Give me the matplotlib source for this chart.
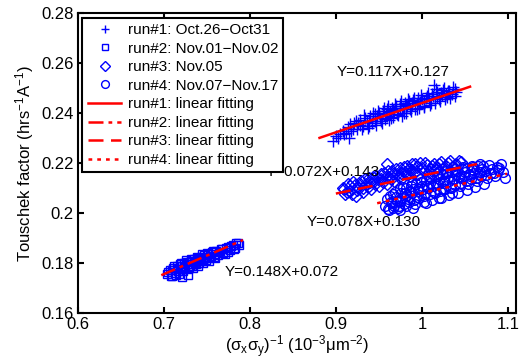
import matplotlib
matplotlib.use('Agg')
import matplotlib.pyplot as plt

plt.rcParams['font.family'] = ['Liberation Sans', 'DejaVu Sans']
plt.rcParams['mathtext.fontset'] = 'custom'
plt.rcParams['mathtext.rm'] = 'Liberation Sans'
plt.rcParams['mathtext.it'] = 'Liberation Sans'
plt.rcParams['mathtext.bf'] = 'Liberation Sans:bold'

# run#1: Oct.26-Oct31
x1 = [0.897, 0.902, 0.905, 0.910, 0.914, 0.918, 0.921, 0.925, 0.928, 0.931,
      0.934, 0.937, 0.940, 0.942, 0.945, 0.947, 0.950, 0.952, 0.955, 0.957,
      0.960, 0.962, 0.965, 0.967, 0.970, 0.972, 0.975, 0.977, 0.980, 0.982,
      0.985, 0.987, 0.990, 0.992, 0.995, 0.997, 1.000, 1.003, 1.006, 1.009,
      1.012, 1.015, 1.018, 1.021, 1.024, 1.027, 1.030, 1.033, 1.036, 1.039,
      0.948, 0.958, 0.968, 0.978, 0.988, 0.998, 1.008, 1.018, 1.028, 0.938,
      0.928, 0.963, 0.983, 1.003, 1.023, 1.014, 0.915,
      0.900, 0.908, 0.912, 0.916, 0.920, 0.923, 0.926, 0.930, 0.933, 0.936,
      0.939, 0.943, 0.946, 0.949, 0.951, 0.954, 0.956, 0.959, 0.961, 0.964,
      0.966, 0.969, 0.971, 0.974, 0.976, 0.979, 0.981, 0.984, 0.986, 0.989,
      0.991, 0.994, 0.996, 0.999, 1.002, 1.005, 1.007, 1.011, 1.013, 1.016,
      1.020, 1.022, 1.026, 1.029, 1.032, 1.035, 1.038, 1.040]
y1 = [0.2290, 0.2302, 0.2315, 0.2318, 0.2345, 0.2327, 0.2362, 0.2338, 0.2371, 0.2349,
      0.2380, 0.2342, 0.2389, 0.2361, 0.2395, 0.2352, 0.2401, 0.2368, 0.2410, 0.2376,
      0.2415, 0.2371, 0.2420, 0.2385, 0.2428, 0.2392, 0.2436, 0.2389, 0.2440, 0.2402,
      0.2447, 0.2408, 0.2451, 0.2415, 0.2460, 0.2420, 0.2458, 0.2425, 0.2470, 0.2433,
      0.2478, 0.2441, 0.2486, 0.2447, 0.2492, 0.2455, 0.2489, 0.2462, 0.2505, 0.2470,
      0.2388, 0.2398, 0.2410, 0.2420, 0.2433, 0.2443, 0.2455, 0.2466, 0.2478, 0.2370,
      0.2352, 0.2405, 0.2428, 0.2450, 0.2474, 0.2512, 0.2300,
      0.2310, 0.2330, 0.2322, 0.2355, 0.2335, 0.2370, 0.2360, 0.2335, 0.2392, 0.2365,
      0.2350, 0.2402, 0.2368, 0.2410, 0.2380, 0.2362, 0.2420, 0.2388, 0.2430, 0.2380,
      0.2412, 0.2438, 0.2395, 0.2420, 0.2448, 0.2400, 0.2432, 0.2455, 0.2415, 0.2440,
      0.2462, 0.2418, 0.2450, 0.2472, 0.2430, 0.2460, 0.2482, 0.2440, 0.2468, 0.2495,
      0.2455, 0.2480, 0.2500, 0.2465, 0.2490, 0.2475, 0.2498, 0.2485]

# run#2: Nov.01-Nov.02
x2 = [0.704, 0.707, 0.709, 0.711, 0.713, 0.715, 0.717, 0.719, 0.721, 0.723,
      0.725, 0.727, 0.729, 0.731, 0.733, 0.735, 0.737, 0.739, 0.741, 0.743,
      0.745, 0.747, 0.749, 0.751, 0.753, 0.756, 0.758, 0.761, 0.763, 0.766,
      0.769, 0.772, 0.775, 0.778, 0.781, 0.784, 0.787, 0.720, 0.730, 0.740,
      0.750, 0.760, 0.735, 0.745, 0.721, 0.728,
      0.705, 0.708, 0.710, 0.712, 0.714, 0.716, 0.718, 0.720, 0.722, 0.724,
      0.726, 0.728, 0.730, 0.732, 0.734, 0.736, 0.738, 0.740, 0.742, 0.744,
      0.746, 0.748, 0.750, 0.752, 0.755, 0.757, 0.760, 0.764, 0.768, 0.771,
      0.774, 0.777, 0.780, 0.783, 0.786]
y2 = [0.1758, 0.1772, 0.1750, 0.1781, 0.1760, 0.1790, 0.1768, 0.1795, 0.1775, 0.1800,
      0.1779, 0.1806, 0.1784, 0.1810, 0.1790, 0.1815, 0.1797, 0.1821, 0.1801, 0.1826,
      0.1808, 0.1832, 0.1812, 0.1838, 0.1820, 0.1845, 0.1826, 0.1850, 0.1832, 0.1855,
      0.1840, 0.1862, 0.1846, 0.1868, 0.1858, 0.1880, 0.1873, 0.1787, 0.1798, 0.1812,
      0.1825, 0.1838, 0.1805, 0.1818, 0.1745, 0.1752,
      0.1765, 0.1748, 0.1772, 0.1790, 0.1752, 0.1778, 0.1758, 0.1800, 0.1768, 0.1790,
      0.1812, 0.1775, 0.1788, 0.1818, 0.1780, 0.1800, 0.1826, 0.1790, 0.1812, 0.1835,
      0.1800, 0.1822, 0.1842, 0.1808, 0.1830, 0.1850, 0.1822, 0.1845, 0.1858, 0.1838,
      0.1865, 0.1852, 0.1872, 0.1862, 0.1882]

# run#3: Nov.05
x3 = [0.908, 0.911, 0.914, 0.917, 0.920, 0.923, 0.926, 0.929, 0.932, 0.935,
      0.938, 0.941, 0.944, 0.947, 0.950, 0.953, 0.956, 0.959, 0.962, 0.965,
      0.968, 0.971, 0.974, 0.977, 0.980, 0.983, 0.986, 0.989, 0.992, 0.996,
      1.000, 1.004, 1.008, 1.012, 1.016, 1.020, 1.025, 1.030, 1.035, 1.040,
      1.045, 0.960,
      0.910, 0.913, 0.916, 0.919, 0.922, 0.925, 0.928, 0.931, 0.934, 0.937,
      0.940, 0.943, 0.946, 0.949, 0.952, 0.955, 0.958, 0.961, 0.964, 0.967,
      0.970, 0.973, 0.976, 0.979, 0.982, 0.985, 0.988, 0.991, 0.994, 0.998,
      1.002, 1.006, 1.010, 1.014, 1.018, 1.022, 1.028, 1.033, 1.038, 1.043]
y3 = [0.2100, 0.2078, 0.2115, 0.2090, 0.2125, 0.2070, 0.2105, 0.2130, 0.2085, 0.2118,
      0.2140, 0.2095, 0.2128, 0.2150, 0.2110, 0.2138, 0.2160, 0.2118, 0.2145, 0.2170,
      0.2130, 0.2155, 0.2180, 0.2140, 0.2165, 0.2190, 0.2150, 0.2172, 0.2198, 0.2158,
      0.2180, 0.2200, 0.2165, 0.2188, 0.2172, 0.2195, 0.2180, 0.2200, 0.2185, 0.2195,
      0.2205, 0.2195,
      0.2095, 0.2085, 0.2108, 0.2078, 0.2112, 0.2092, 0.2118, 0.2100, 0.2135, 0.2105,
      0.2125, 0.2145, 0.2118, 0.2135, 0.2155, 0.2125, 0.2145, 0.2168, 0.2135, 0.2155,
      0.2178, 0.2145, 0.2162, 0.2185, 0.2155, 0.2175, 0.2195, 0.2162, 0.2185, 0.2200,
      0.2170, 0.2192, 0.2178, 0.2198, 0.2182, 0.2205, 0.2190, 0.2208, 0.2192, 0.2210]

# run#4: Nov.07-Nov.17
x4 = [0.957, 0.959, 0.961, 0.963, 0.965, 0.967, 0.969, 0.971, 0.973, 0.975,
      0.977, 0.979, 0.981, 0.983, 0.985, 0.987, 0.989, 0.991, 0.993, 0.995,
      0.997, 0.999, 1.001, 1.003, 1.005, 1.007, 1.009, 1.011, 1.013, 1.015,
      1.017, 1.019, 1.021, 1.023, 1.025, 1.027, 1.029, 1.031, 1.033, 1.035,
      1.037, 1.039, 1.041, 1.043, 1.045, 1.047, 1.049, 1.051, 1.053, 1.055,
      1.057, 1.059, 1.061, 1.063, 1.065, 1.067, 1.069, 1.071, 1.073, 1.075,
      1.078, 1.081, 1.084, 1.087, 1.090, 1.094, 1.097,
      0.970, 0.980, 0.990, 1.000, 1.010, 1.020, 1.030, 1.040, 1.050, 1.060,
      1.070, 0.975, 0.990, 1.005, 1.020, 1.035,
      0.962, 0.964, 0.966, 0.968, 0.972, 0.974, 0.976, 0.978, 0.982, 0.984,
      0.986, 0.988, 0.992, 0.994, 0.996, 0.998, 1.002, 1.004, 1.006, 1.008,
      1.012, 1.014, 1.016, 1.018, 1.022, 1.024, 1.026, 1.028, 1.032, 1.034,
      1.036, 1.038, 1.042, 1.044, 1.046, 1.048, 1.052, 1.054, 1.056, 1.058,
      1.062, 1.064, 1.066, 1.068, 1.072, 1.076, 1.080, 1.085, 1.088, 1.092]
y4 = [0.2030, 0.2055, 0.2015, 0.2070, 0.2040, 0.2022, 0.2085, 0.2050, 0.2030, 0.2095,
      0.2060, 0.2038, 0.2100, 0.2072, 0.2045, 0.2110, 0.2080, 0.2052, 0.2118, 0.2088,
      0.2060, 0.2125, 0.2095, 0.2068, 0.2132, 0.2102, 0.2075, 0.2140, 0.2108, 0.2082,
      0.2148, 0.2115, 0.2090, 0.2155, 0.2122, 0.2098, 0.2160, 0.2130, 0.2105, 0.2165,
      0.2138, 0.2112, 0.2170, 0.2145, 0.2120, 0.2178, 0.2150, 0.2128, 0.2182, 0.2158,
      0.2135, 0.2185, 0.2160, 0.2140, 0.2190, 0.2165, 0.2148, 0.2188, 0.2170, 0.2152,
      0.2192, 0.2175, 0.2160, 0.2185, 0.2180, 0.2165, 0.2140,
      0.2065, 0.2080, 0.2095, 0.2110, 0.2120, 0.2135, 0.2145, 0.2155, 0.2165, 0.2172,
      0.2178, 0.2012, 0.2022, 0.2040, 0.2060, 0.2080,
      0.2012, 0.2044, 0.2075, 0.2028, 0.2020, 0.2050, 0.2082, 0.2105, 0.2030, 0.2058,
      0.2090, 0.2120, 0.2036, 0.2066, 0.2098, 0.2135, 0.2045, 0.2075, 0.2108, 0.2150,
      0.2052, 0.2085, 0.2118, 0.2160, 0.2062, 0.2095, 0.2128, 0.2170, 0.2072, 0.2100,
      0.2135, 0.2178, 0.2082, 0.2110, 0.2142, 0.2185, 0.2092, 0.2118, 0.2150, 0.2190,
      0.2105, 0.2128, 0.2158, 0.2195, 0.2118, 0.2140, 0.2162, 0.2150, 0.2172, 0.2195]

# linear fits: slope, intercept, x range of the drawn line
fit_k = [0.117, 0.148, 0.072, 0.078]
fit_b = [0.127, 0.072, 0.143, 0.130]
fit_x0 = [0.881, 0.697, 0.900, 0.948]
fit_x1 = [1.056, 0.792, 1.064, 1.099]
fit_text = ['Y=0.117X+0.127', 'Y=0.148X+0.072', 'Y=0.072X+0.143', 'Y=0.078X+0.130']
text_xy = [(0.901, 0.2564), (0.771, 0.1765), (0.8186, 0.2165), (0.866, 0.1965)]

labels = ['run#1: Oct.26\u2212Oct31', 'run#2: Nov.01\u2212Nov.02',
          'run#3: Nov.05', 'run#4: Nov.07\u2212Nov.17',
          'run#1: linear fitting', 'run#2: linear fitting',
          'run#3: linear fitting', 'run#4: linear fitting']

blue = (0, 0, 1)
red = (1, 0, 0)

fig = plt.figure(figsize=(5.19, 3.62), dpi=100)
ax = fig.add_axes([0.150, 0.135, 0.844, 0.829])

ax.plot(x1, y1, '+', color=blue, ms=8, mew=1.0, label=labels[0])
ax.plot(x2, y2, 's', color=blue, ms=6, mew=1.0, mfc='none', label=labels[1])
ax.plot(x3, y3, 'D', color=blue, ms=6, mew=1.0, mfc='none', label=labels[2])
ax.plot(x4, y4, 'o', color=blue, ms=7, mew=1.0, mfc='none', label=labels[3])

styles = ['-', (0, (6, 2, 1.5, 2)), (0, (6, 3)), (0, (1.5, 2))]
for i in range(4):
    xs = [fit_x0[i], fit_x1[i]]
    ys = [fit_k[i] * x + fit_b[i] for x in xs]
    ax.plot(xs, ys, color=red, lw=1.8, linestyle=styles[i], label=labels[4 + i])

for t, (tx, ty) in zip(fit_text, text_xy):
    ax.text(tx, ty, t, fontsize=11, va='center', ha='left', zorder=3)

ax.set_xlim(0.6, 1.1093)
ax.set_ylim(0.16, 0.28)
ax.set_xticks([0.6, 0.7, 0.8, 0.9, 1.0, 1.1])
ax.set_xticklabels(['0.6', '0.7', '0.8', '0.9', '1', '1.1'])
ax.set_yticks([0.16, 0.18, 0.2, 0.22, 0.24, 0.26, 0.28])
ax.set_yticklabels(['0.16', '0.18', '0.2', '0.22', '0.24', '0.26', '0.28'])
ax.tick_params(direction='in', top=True, right=True, length=4, width=1.5,
               labelsize=12, pad=3)
for s in ax.spines.values():
    s.set_linewidth(1.5)

ax.set_xlabel(r'$(\sigma_x\sigma_y)^{-1}\ (10^{-3}\mu\mathrm{m}^{-2})$', fontsize=12, labelpad=1)
ax.set_ylabel(r'Touschek factor (hrs$^{-1}$A$^{-1}$)', fontsize=12, labelpad=4)

leg = ax.legend(loc='upper left', fontsize=11, frameon=True, fancybox=False,
                edgecolor='black', framealpha=1, handlelength=2.2,
                labelspacing=0.3, borderpad=0.35, borderaxespad=0.3,
                handletextpad=0.4, numpoints=1, markerscale=0.8)
leg.get_frame().set_linewidth(1.5)

fig.savefig('out.png', dpi=100)
